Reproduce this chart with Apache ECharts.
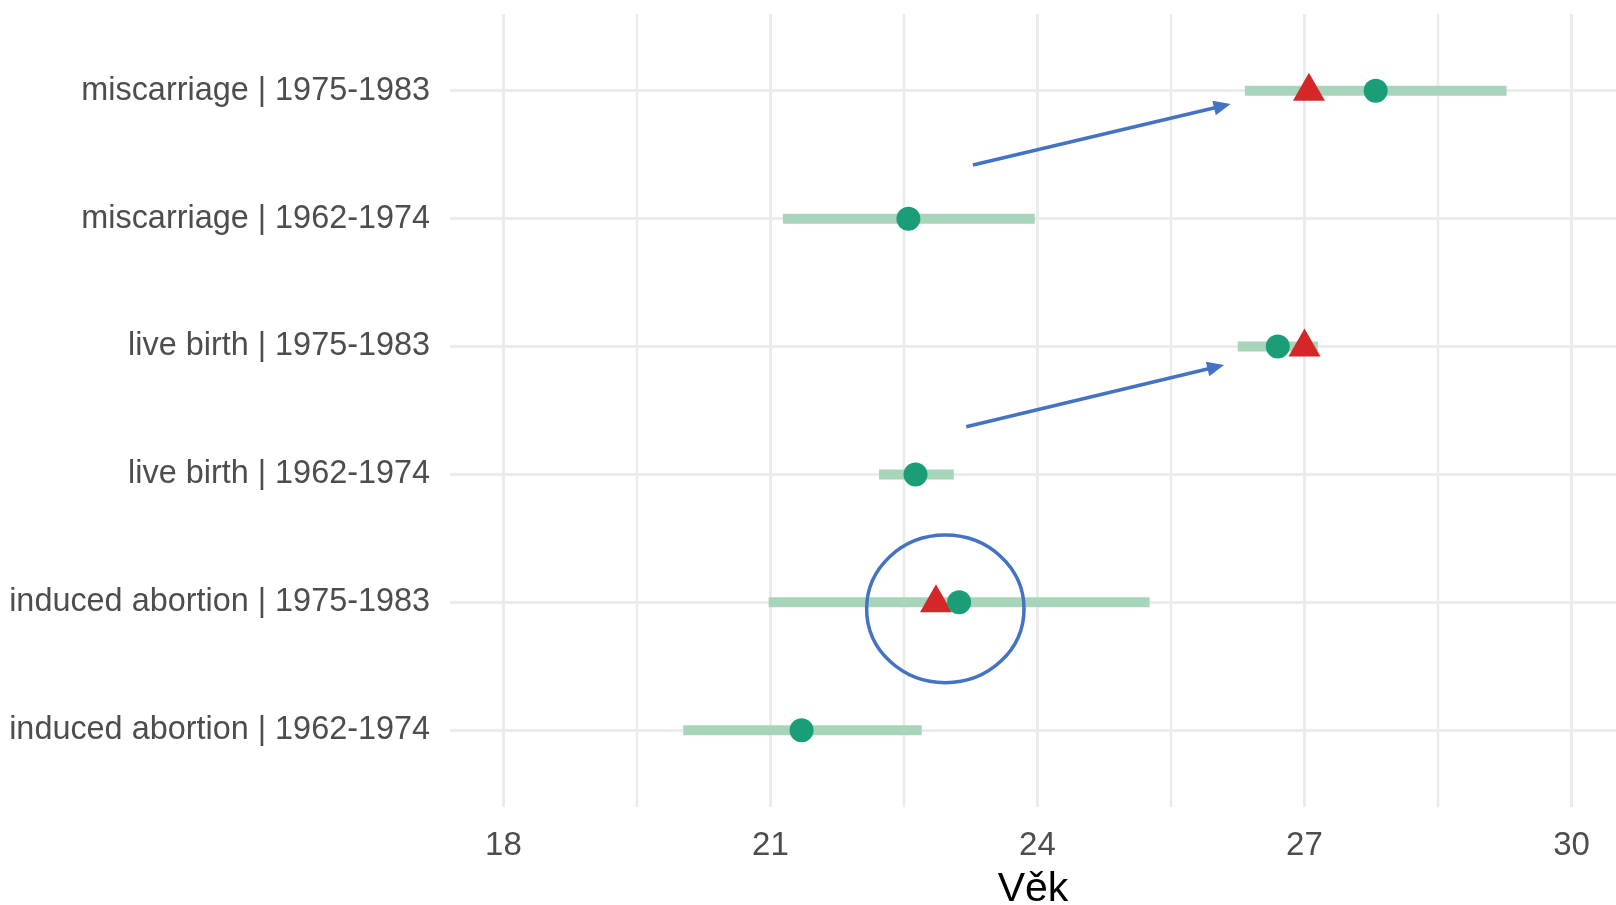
<!DOCTYPE html>
<html>
<head>
<meta charset="utf-8">
<script src="https://cdn.jsdelivr.net/npm/echarts@6/dist/echarts.min.js"></script>
<style>
html,body{margin:0;padding:0;background:#fff;}
#c{width:1616px;height:905px;}
</style>
</head>
<body>
<div id="c"></div>
<script>
// Categories, bottom to top
const categories = [
  'induced abortion | 1962-1974',
  'induced abortion | 1975-1983',
  'live birth | 1962-1974',
  'live birth | 1975-1983',
  'miscarriage | 1962-1974',
  'miscarriage | 1975-1983'
];
// interval low / high per category
const lowValues  = [20.02, 20.98, 22.22, 26.25, 21.14, 26.33];
const highValues = [22.70, 25.26, 23.06, 27.15, 23.97, 29.27];
// green circle (estimate)
const pointValues = [21.35, 23.12, 22.63, 26.70, 22.55, 27.80];
// red triangle (only for 1975-1983 cohorts)
const triangleValues = [null, 22.86, null, 27.00, null, 27.05];
// axis ticks
const xMajorTicks = [18, 21, 24, 27, 30];
const xMinorTicks = [19.5, 22.5, 25.5, 28.5];
const rowTicks = [0, 1, 2, 3, 4, 5];
// annotations (data coordinates): arrows [x1, y1, x2, y2], ellipse [cx, cy, rx, ry]
const arrows = [
  [23.275, 4.42, 26.17, 4.896],
  [23.20, 2.373, 26.097, 2.856]
];
const ellipses = [[22.965, 0.949, 0.884, 0.577]];

const FONT = '"Liberation Sans", Arial, Helvetica, sans-serif';
const BLUE = '#4472c4';

const chart = echarts.init(document.getElementById('c'));

const barData = categories.map((c, i) => [lowValues[i], highValues[i], i]);
const pointData = categories.map((c, i) => [pointValues[i], i]);
const triData = [];
triangleValues.forEach((v, i) => { if (v !== null) triData.push([v, i]); });

chart.setOption({
  animation: false,
  backgroundColor: '#ffffff',
  grid: { left: 450, right: 0, top: 14, bottom: 98, containLabel: false, outerBoundsMode: 'none' },
  xAxis: {
    type: 'value', min: 17.4, max: 30.5,
    name: 'Věk', nameLocation: 'middle', nameGap: 62,
    nameTextStyle: { fontSize: 41, color: '#000000', fontFamily: FONT },
    axisLine: { show: false },
    axisTick: { show: false, customValues: xMajorTicks },
    axisLabel: { customValues: xMajorTicks, fontSize: 33, color: '#4d4d4d', fontFamily: FONT, margin: 22 },
    splitLine: { show: true, lineStyle: { color: '#ebebeb', width: 3 } }
  },
  yAxis: {
    type: 'value', min: -0.6, max: 5.6,
    axisLine: { show: false },
    axisTick: { show: false, customValues: rowTicks },
    axisLabel: {
      customValues: rowTicks,
      formatter: v => categories[Math.round(v)] || '',
      fontSize: 32.4, color: '#4d4d4d', fontFamily: FONT, margin: 20,
      padding: [5, 0, 0, 0]
    },
    splitLine: { show: true, lineStyle: { color: '#ebebeb', width: 3 } }
  },
  series: [
    {
      type: 'custom', name: 'minor', silent: true, z: 1,
      data: xMinorTicks.map(v => [v]),
      renderItem: (params, api) => {
        const v = api.value(0);
        const a = api.coord([v, -0.6]);
        const b = api.coord([v, 5.6]);
        return { type: 'line', shape: { x1: a[0], y1: a[1], x2: b[0], y2: b[1] },
                 style: { stroke: '#ebebeb', lineWidth: 2.5 } };
      }
    },
    {
      type: 'custom', name: 'interval', silent: true, z: 3,
      data: barData,
      encode: { x: [0, 1], y: 2 },
      renderItem: (params, api) => {
        const s = api.coord([api.value(0), api.value(2)]);
        const e = api.coord([api.value(1), api.value(2)]);
        return { type: 'rect', shape: { x: s[0], y: s[1] - 5, width: e[0] - s[0], height: 10 },
                 style: { fill: '#a8d5ba' } };
      }
    },
    {
      type: 'scatter', name: 'triangle', silent: true, z: 4,
      symbol: 'triangle', symbolSize: [32, 28], symbolOffset: [0, -4],
      itemStyle: { color: '#d62728', opacity: 1 },
      data: triData
    },
    {
      type: 'scatter', name: 'point', silent: true, z: 5,
      symbol: 'circle', symbolSize: 24,
      itemStyle: { color: '#1b9e77', opacity: 1 },
      data: pointData
    },
    {
      type: 'custom', name: 'arrows', silent: true, z: 6,
      data: arrows,
      encode: { x: [0, 2], y: [1, 3] },
      renderItem: (params, api) => {
        const p1 = api.coord([api.value(0), api.value(1)]);
        const p2 = api.coord([api.value(2), api.value(3)]);
        const dx = p2[0] - p1[0], dy = p2[1] - p1[1];
        const len = Math.sqrt(dx * dx + dy * dy);
        const ux = dx / len, uy = dy / len;
        const hl = 17, hw = 7.5;
        const bx = p2[0] - ux * hl, by = p2[1] - uy * hl;
        return {
          type: 'group',
          children: [
            { type: 'line', shape: { x1: p1[0], y1: p1[1], x2: bx + ux * 2, y2: by + uy * 2 },
              style: { stroke: BLUE, lineWidth: 3.5 } },
            { type: 'polygon', shape: { points: [
                [p2[0], p2[1]],
                [bx - uy * hw, by + ux * hw],
                [bx + uy * hw, by - ux * hw]
              ] }, style: { fill: BLUE } }
          ]
        };
      }
    },
    {
      type: 'custom', name: 'ellipse', silent: true, z: 6,
      data: ellipses,
      encode: { x: 0, y: 1 },
      renderItem: (params, api) => {
        const c = api.coord([api.value(0), api.value(1)]);
        const sz = api.size([api.value(2), api.value(3)]);
        return { type: 'ellipse', shape: { cx: c[0], cy: c[1], rx: sz[0], ry: sz[1] },
                 style: { fill: 'none', stroke: BLUE, lineWidth: 3.5 } };
      }
    }
  ]
});
</script>
</body>
</html>
